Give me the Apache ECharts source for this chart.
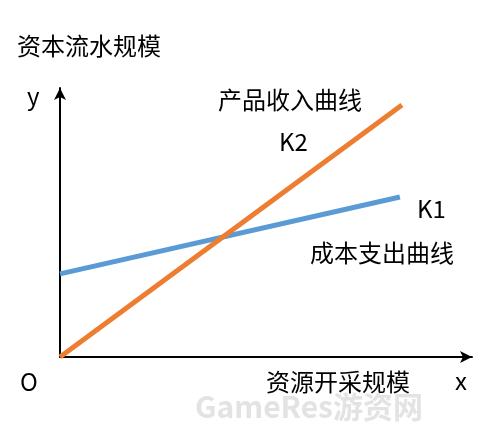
<!DOCTYPE html>
<html><head><meta charset="utf-8">
<script src="https://cdn.jsdelivr.net/npm/echarts@6/dist/echarts.min.js"></script>
<style>html,body{margin:0;background:#fff}#main{width:500px;height:440px}</style>
</head><body><div id="main"></div>
<script>
// line endpoints in abstract units (axes 0..100)
const incomeLine = [[0, 0], [83, 93.7]];
const costLine = [[0, 30.9], [82.5, 59.5]];
const labels = [
  { text: '资本流水规模', x: 17, y: 46 },
  { text: 'y', x: 27, y: 96 },
  { text: 'O', x: 20, y: 382 },
  { text: 'x', x: 455, y: 381 },
  { text: '资源开采规模', x: 338, y: 382, align: 'center' },
  { text: '产品收入曲线', x: 218, y: 100 },
  { text: 'K2', x: 279, y: 142 },
  { text: 'K1', x: 417, y: 209 },
  { text: '成本支出曲线', x: 310, y: 253 }
];

const chart = echarts.init(document.getElementById('main'));
const axisLine = { show: true, symbol: ['none', 'arrow'], symbolSize: [9, 12], lineStyle: { color: '#000', width: 2 } };
chart.setOption({
  animation: false,
  grid: { left: 60, right: 28, top: 88, bottom: 83 },
  xAxis: { type: 'value', min: 0, max: 100, axisLine, axisTick: { show: false }, axisLabel: { show: false }, splitLine: { show: false } },
  yAxis: { type: 'value', min: 0, max: 100, axisLine, axisTick: { show: false }, axisLabel: { show: false }, splitLine: { show: false } },
  series: [
    { type: 'line', data: costLine, symbol: 'none', lineStyle: { color: '#5b9bd5', width: 5 } },
    { type: 'line', data: incomeLine, symbol: 'none', lineStyle: { color: '#ed7d31', width: 5 } }
  ],
  graphic: labels.map(l => ({
    type: 'text', x: l.x, y: l.y,
    style: { text: l.text, fill: '#000', font: '24px "Noto Sans CJK SC"', textAlign: l.align || 'left', textVerticalAlign: 'middle' }
  })).concat([{
    type: 'text', x: 195, y: 407,
    style: { text: 'GameRes游资网', fill: 'rgba(200,200,200,0.5)', font: 'bold 30px "Noto Sans CJK SC"', textVerticalAlign: 'middle' }
  }])
});
</script></body></html>
